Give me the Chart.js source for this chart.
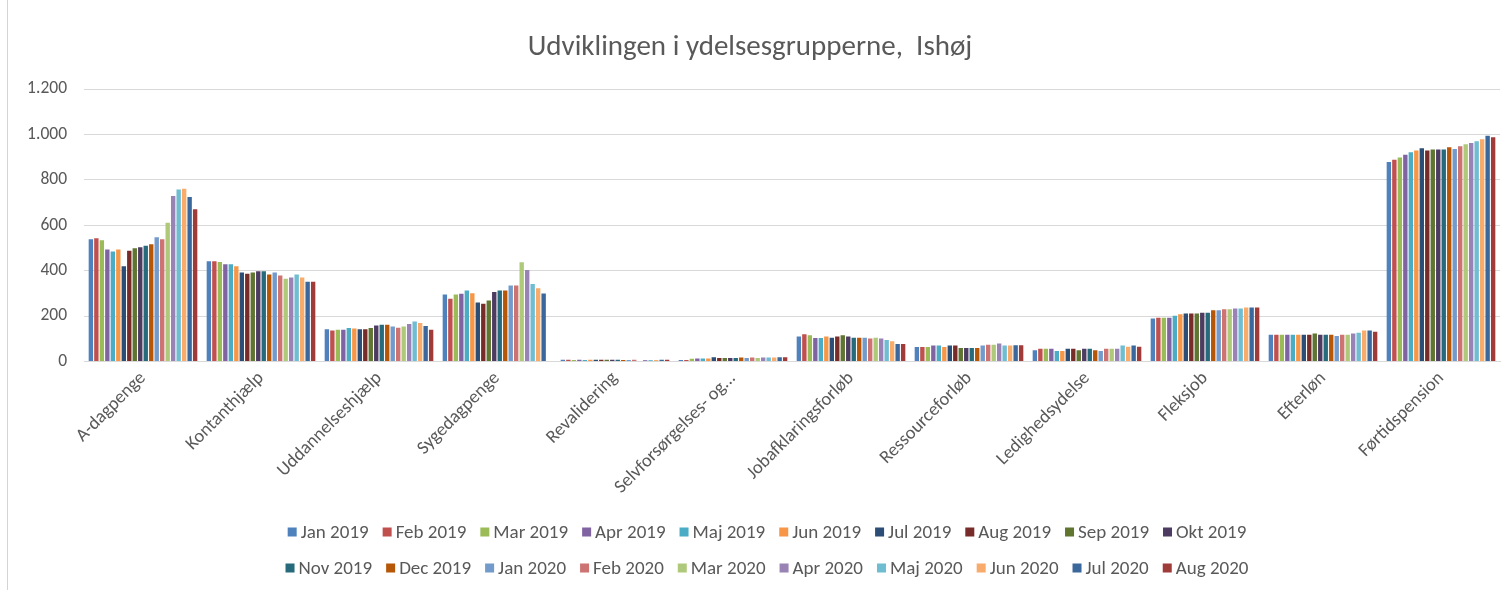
<!DOCTYPE html>
<html lang="da">
<head>
<meta charset="utf-8">
<title>Udviklingen i ydelsesgrupperne, Ishøj</title>
<script src="https://cdn.jsdelivr.net/npm/chart.js@4.4.1/dist/chart.umd.min.js"></script>
<style>
  html,body{margin:0;padding:0;background:#fff;}
  #wrap{position:relative;width:1512px;height:590px;}
  #edge{position:absolute;left:7px;top:0;width:1px;height:590px;background:#d4d4d4;}
</style>
</head>
<body>
<div id="wrap"><div id="edge"></div><canvas id="chart"></canvas></div>
<script>
const categories = ['A-dagpenge','Kontanthjælp','Uddannelseshjælp','Sygedagpenge','Revalidering',
  'Selvforsørgelses- og...','Jobafklaringsforløb','Ressourceforløb','Ledighedsydelse','Fleksjob','Efterløn','Førtidspension'];

const months = ['Jan 2019','Feb 2019','Mar 2019','Apr 2019','Maj 2019','Jun 2019','Jul 2019','Aug 2019','Sep 2019','Okt 2019',
  'Nov 2019','Dec 2019','Jan 2020','Feb 2020','Mar 2020','Apr 2020','Maj 2020','Jun 2020','Jul 2020','Aug 2020'];

const colors = ['#4F81BD','#C0504D','#9BBB59','#8064A2','#4BACC6','#F79646','#2C4D75','#772C2A','#5F7530','#4D3B62',
  '#276A7C','#B65708','#729ACA','#CD7371','#AFC97A','#9983B5','#6FBDD1','#F9AB6B','#3A679C','#9F3B38'];

// one row per ydelsesgruppe, one value per month (Jan 2019 .. Aug 2020)
const aDagpenge         = [538,543,534,493,484,493,420,488,499,503,510,516,547,538,611,729,757,761,724,670];
const kontanthjaelp     = [442,442,438,428,428,419,392,386,392,397,397,383,392,379,364,370,383,370,351,351];
const uddannelseshjaelp = [142,136,140,140,148,145,142,142,148,158,162,162,154,149,154,165,176,170,156,140];
const sygedagpenge      = [295,276,295,298,313,301,260,254,269,306,313,313,335,335,437,403,341,323,300,null];
const revalidering      = [8,8,7,8,7,8,8,8,8,8,8,7,7,8,null,7,7,7,8,8];
const selvforsoergelse  = [7,7,12,13,13,13,19,15,15,15,15,18,15,18,15,18,18,18,19,19];
const jobafklaring      = [110,120,116,104,104,110,105,110,116,110,105,105,105,101,105,101,95,89,77,77];
const ressourceforloeb  = [64,64,64,70,70,64,70,70,59,59,59,59,70,74,74,79,70,71,72,72];
const ledighedsydelse   = [50,56,56,56,46,46,56,56,50,56,56,50,46,56,56,56,71,65,71,65];
const fleksjob          = [189,193,193,193,202,208,211,211,211,215,215,226,226,230,230,233,233,238,238,238];
const efterloen         = [118,118,118,118,118,118,118,118,123,118,118,118,112,118,118,123,127,136,137,131];
const foertidspension   = [879,888,898,911,922,929,939,929,934,934,934,944,936,948,957,962,970,979,994,988];

const groups = [aDagpenge,kontanthjaelp,uddannelseshjaelp,sygedagpenge,revalidering,selvforsoergelse,
  jobafklaring,ressourceforloeb,ledighedsydelse,fleksjob,efterloen,foertidspension];

const FONT = 'Carlito, Lato, sans-serif';
const GREY = '#595959';

const datasets = months.map((m,i)=>({
  label: m,
  data: groups.map(g=>g[i]),
  backgroundColor: colors[i],
  borderWidth: 0,
  barPercentage: 0.8,
  categoryPercentage: 0.93
}));

// Excel-style legend: two centred rows of ten items under the axis labels
const twoRowLegend = {
  id: 'twoRowLegend',
  afterDraw(chart){
    const ctx = chart.ctx;
    const ds = chart.data.datasets;
    const perRow = 10, box = 9, gap = 4, pad = 14, centerX = 767;
    const rowY = [532, 568];
    ctx.save();
    ctx.font = '19px ' + FONT;
    ctx.textBaseline = 'middle';
    ctx.textAlign = 'left';
    for(let r = 0; r < rowY.length; r++){
      const items = ds.slice(r*perRow, (r+1)*perRow);
      const widths = items.map(d => box + gap + ctx.measureText(d.label).width);
      const total = widths.reduce((s,w)=>s+w,0) + pad*(items.length-1);
      let x = centerX - total/2;
      items.forEach((d,i)=>{
        ctx.fillStyle = d.backgroundColor;
        ctx.fillRect(x, rowY[r]-box/2, box, box);
        ctx.fillStyle = GREY;
        ctx.fillText(d.label, x + box + gap, rowY[r]+1);
        x += widths[i] + pad;
      });
    }
    ctx.restore();
  }
};

const fmt = v => String(v).replace(/\B(?=(\d{3})+(?!\d))/g,'.');

new Chart(document.getElementById('chart'), {
  type: 'bar',
  data: { labels: categories, datasets },
  options: {
    responsive: true, maintainAspectRatio: false, animation: false,
    layout: { padding: { left: 0, right: 12, top: 0, bottom: 86.5 } },
    scales: {
      x: {
        grid: { display: false, drawTicks: false },
        border: { color: '#d9d9d9' },
        ticks: { color: GREY, font: { family: FONT, size: 18.5 }, maxRotation: 45, minRotation: 45, padding: 6, autoSkip: false },
        afterFit(scale){ scale.height = 142; }
      },
      y: {
        min: 0, max: 1200,
        grid: { color: '#d9d9d9', drawTicks: false },
        border: { display: false },
        ticks: { stepSize: 200, color: GREY, font: { family: FONT, size: 17.5 }, padding: 17, callback: v => fmt(v) },
        afterFit(scale){ scale.width = 84; }
      }
    },
    plugins: {
      title: {
        display: true,
        text: 'Udviklingen i ydelsesgrupperne,  Ishøj',
        color: GREY,
        font: { family: FONT, size: 29, weight: 'normal' },
        padding: { top: 30, bottom: 24.2 }
      },
      legend: { display: false },
      tooltip: { enabled: false }
    }
  },
  plugins: [twoRowLegend]
});
</script>
</body>
</html>
